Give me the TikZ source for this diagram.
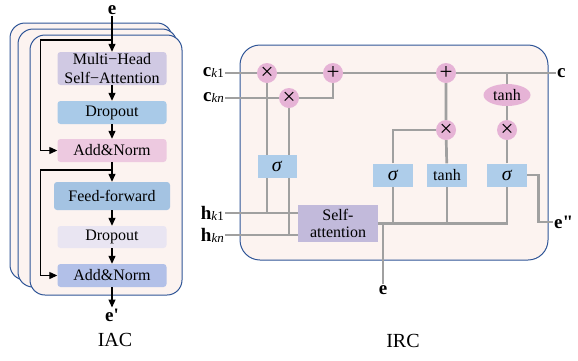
\documentclass[tikz,border=0pt]{standalone}
\usepackage{fontspec}
\setmainfont{Liberation Serif}
\usetikzlibrary{arrows.meta,positioning,shapes.geometric}
\definecolor{bgpink}{HTML}{FCF3F0}
\definecolor{edgeblue}{HTML}{2F5597}
\definecolor{mhpurple}{HTML}{D0C9E3}
\definecolor{dropblue}{HTML}{A9CAE8}
\definecolor{addpink}{HTML}{EDC9E0}
\definecolor{ffblue}{HTML}{A4C3E2}
\definecolor{droplav}{HTML}{E9E5F2}
\definecolor{addblue}{HTML}{B2C0E8}
\definecolor{oppink}{HTML}{E6B3D6}
\definecolor{gateblue}{HTML}{AECDEA}
\definecolor{sapurple}{HTML}{C2BADB}
\definecolor{wiregray}{HTML}{A0A0A0}
\pgfdeclarelayer{back}
\pgfdeclarelayer{wires}
\pgfsetlayers{back,wires,main}
\newcommand{\vlbl}[2]{\textbf{#1}\raisebox{-1pt}{\fontsize{13}{13}\selectfont #2}}
\newcommand{\sig}{{\fontsize{20}{20}\selectfont\textit{σ}}}

\begin{document}
\begin{tikzpicture}[x=1pt,y=-1pt,
every node/.style={font=\fontsize{16}{19}\selectfont,inner sep=1pt},
blk/.style={rectangle,rounded corners=3pt,minimum width=109pt,minimum height=23pt,align=center},
gate/.style={rectangle,fill=gateblue,minimum width=40pt,minimum height=23pt,inner sep=0pt},
op/.style={circle,fill=oppink,minimum size=20pt,inner sep=0pt,font=\fontsize{23}{23}\selectfont},
wire/.style={draw=wiregray,line width=2.7pt},
arr/.style={-{Triangle[length=8pt,width=7pt]},line width=1.2pt},
frame/.style={draw=edgeblue,fill=bgpink,line width=1pt},
lbl/.style={font=\fontsize{19}{19}\selectfont},
captext/.style={font=\fontsize{20}{20}\selectfont}]
\useasboundingbox (0,0) rectangle (578,360);
\begin{pgfonlayer}{back}
\draw[frame,rounded corners=15pt] (10,23) rectangle (172,280);
\draw[frame,rounded corners=15pt] (18,29) rectangle (177,287);
\draw[frame,rounded corners=15pt] (30,35) rectangle (182,295);
\draw[frame,rounded corners=20pt] (240,45) rectangle (548,260);
\end{pgfonlayer}
% IAC
\node[lbl] (e0) at (112,10) {\textbf{e}};
\node[blk,fill=mhpurple,minimum height=33pt] (MH) at (112,68.5) {Multi−Head\\Self−Attention};
\node[blk,fill=dropblue] (D1) at (112,112.5) {Dropout};
\node[blk,fill=addpink] (AN1) at (112,150.5) {Add\&Norm};
\node[blk,fill=ffblue,minimum width=116pt,minimum height=28pt] (FF) at (112,196) {Feed-forward};
\node[blk,fill=droplav,minimum height=22pt] (D2) at (112,237) {Dropout};
\node[blk,fill=addblue] (AN2) at (112,275.5) {Add\&Norm};
\node[lbl] (e1) at (112,315) {\textbf{e\textquotesingle}};
\node[captext] (iac) at (115,340) {IAC};
\coordinate (s1) at (112,40);
\coordinate (s2) at (112,170);
\draw[arr] (e0)--(MH);
\draw[arr] (MH)--(D1);
\draw[arr] (D1)--(AN1);
\draw[arr] (AN1)--(FF);
\draw[arr] (FF)--(D2);
\draw[arr] (D2)--(AN2);
\draw[arr] (AN2)--(e1);
\draw[arr] (s1) -| ([xshift=-17pt]AN1.west) -- (AN1);
\draw[arr] (s2) -| ([xshift=-17pt]AN2.west) -- (AN2);
% IRC
\node[lbl,anchor=east] (ck1) at (225,73) {\vlbl{c}{\textit{k}1}};
\node[lbl,anchor=east] (ckn) at (225,98) {\vlbl{c}{\textit{kn}}};
\node[lbl,anchor=east] (hk1) at (225,213) {\vlbl{h}{\textit{k}1}};
\node[lbl,anchor=east] (hkn) at (225,235) {\vlbl{h}{\textit{kn}}};
\node[op] (M1) at (267,73) {×};
\node[op] (M2) at (289,98) {×};
\node[op] (P1) at (333,73) {+};
\node[op] (P2) at (446,73) {+};
\node[op] (M3) at (446,130) {×};
\node[op] (M4) at (507,130) {×};
\node[ellipse,fill=oppink,minimum width=47pt,minimum height=22pt,inner sep=0pt] (T2) at (507,95) {tanh};
\node[gate,minimum width=39pt] (S1) at (277,166) {\sig};
\node[gate] (S2) at (393,175) {\sig};
\node[gate] (T1) at (447,175) {tanh};
\node[gate] (S3) at (507,175) {\sig};
\node[rectangle,fill=sapurple,minimum width=80pt,minimum height=37pt,align=center,font=\fontsize{16}{17}\selectfont] (SA) at (338,223.5) {Self-\\attention};
\node[lbl,anchor=west] (cout) at (556,73) {\textbf{c}};
\node[lbl,anchor=west] (eout) at (553,222) {\textbf{e\textquotedbl}};
\node[lbl] (ein) at (383,290) {\textbf{e}};
\node[captext] (irc) at (403,341) {IRC};
\begin{pgfonlayer}{wires}
\draw[wire] (ck1.east) -- (cout.west);
\draw[wire] (ckn.east) -- (M2) -| (P1);
\draw[wire] (M1) -- (M1 |- hk1.east);
\draw[wire] (M2) -- (M2 |- hkn.east);
\draw[wire] (hk1.east) -- (SA.west |- hk1.east);
\draw[wire] (hkn.east) -- (SA.west |- hkn.east);
\draw[wire] (SA.east) -| (S3);
\draw[wire] (S2) -- (S2 |- SA.east);
\draw[wire] (T1) -- (T1 |- SA.east);
\draw[wire] (ein.north) -- (ein.north |- SA.east);
\draw[wire] (S2) |- (M3);
\draw[wire] (T1) -- (M3) -- (P2);
\draw[wire] (S3) -- (M4) -- (T2) -- (T2 |- cout.west);
\draw[wire] (S3.east) -- ++(11,0) |- (eout.west);
\end{pgfonlayer}
\end{tikzpicture}
\end{document}
